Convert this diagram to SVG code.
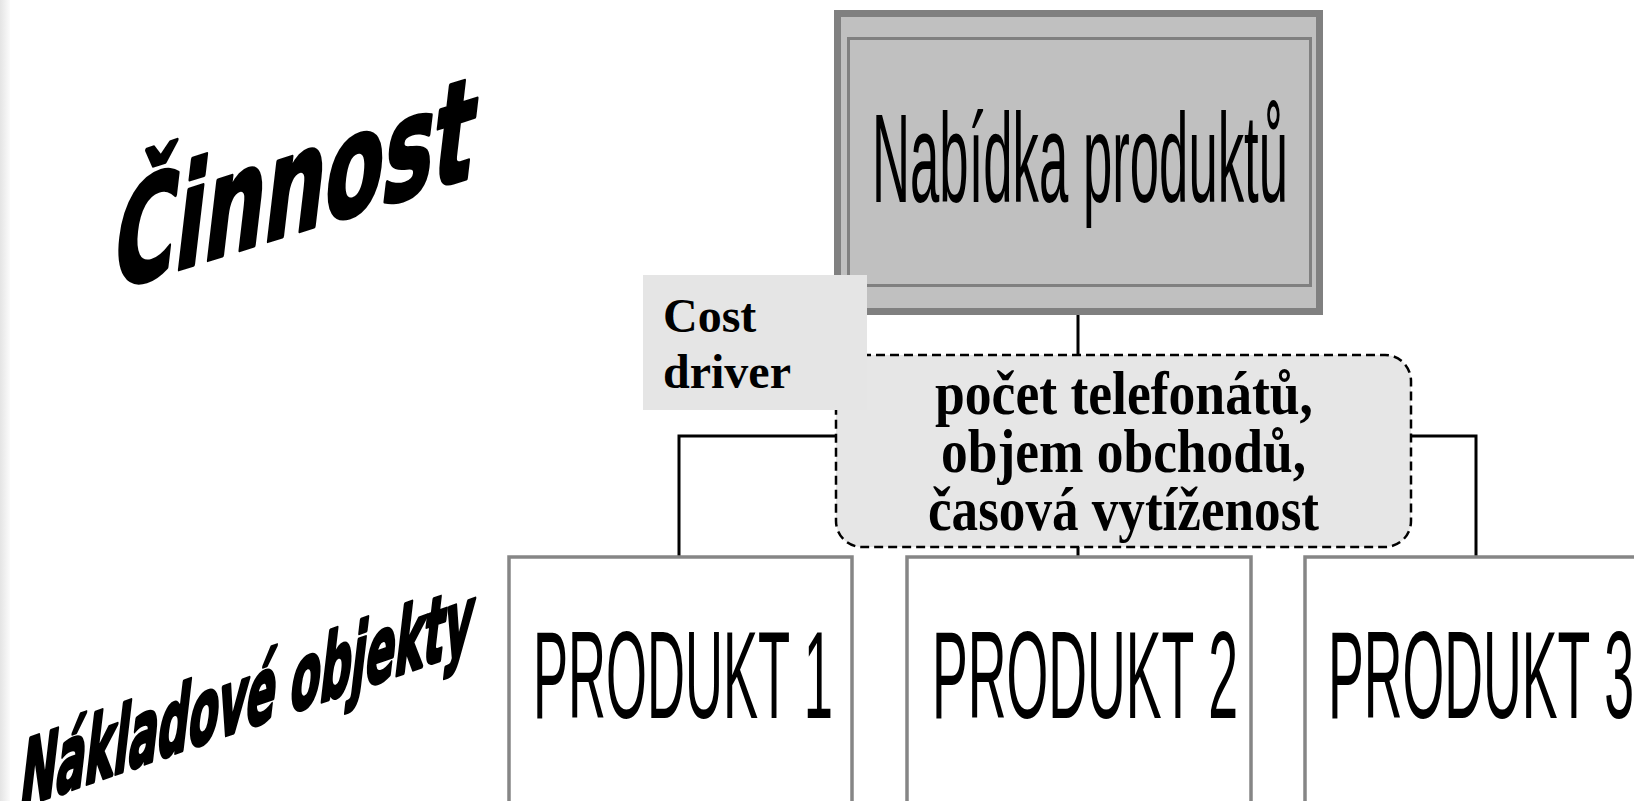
<svg xmlns="http://www.w3.org/2000/svg" width="1634" height="801" viewBox="0 0 1634 801">
<defs>
<linearGradient id="edge" x1="0" y1="0" x2="1" y2="0">
<stop offset="0" stop-color="#e4e4e4"/>
<stop offset="1" stop-color="#fbfbfb"/>
</linearGradient>
</defs>
<style>
.heavy{font-family:"DejaVu Sans",sans-serif;font-weight:bold;fill:#000;stroke:#000;stroke-width:4;stroke-linejoin:round}
.narrow{font-family:"Liberation Sans",Arial,sans-serif;fill:#000}
.serifb{font-family:"Liberation Serif","Times New Roman",serif;font-weight:bold;fill:#000}
.prod{fill:#fff;stroke:#868686;stroke-width:3.5}
.conn{fill:none;stroke:#000;stroke-width:3}
</style>
<rect x="0" y="0" width="1634" height="801" fill="#fff"/>
<rect x="0" y="0" width="10" height="801" fill="url(#edge)"/>

<g id="label-cinnost">
<text class="heavy" font-size="140" textLength="360" lengthAdjust="spacingAndGlyphs" transform="translate(110,291) skewY(-17.5) skewX(-7)">Činnost</text>
</g>
<g id="label-nakladove">
<text class="heavy" font-size="90" textLength="452" lengthAdjust="spacingAndGlyphs" transform="translate(18,808) skewY(-19.3) skewX(-7)">Nákladové objekty</text>
</g>

<g id="connectors">
<path class="conn" d="M1078 315 V436 M679 557 V436 H1476 V557 M1078 436 V557"/>
</g>

<g id="node-nabidka">
<rect x="837.5" y="13.5" width="482" height="298" fill="#c0c0c0" stroke="#808080" stroke-width="7"/>
<rect x="848.5" y="38.5" width="462" height="247" fill="none" stroke="#808080" stroke-width="3"/>
<text class="narrow" x="872" y="202" font-size="126" textLength="416" lengthAdjust="spacingAndGlyphs">Nabídka produktů</text>
</g>

<g id="node-driver">
<rect x="836" y="355" width="575" height="192" rx="26" ry="26" fill="#e6e6e6" stroke="#000" stroke-width="2.5" stroke-dasharray="9 5"/>
<text class="serifb" x="935" y="414" font-size="61" textLength="378" lengthAdjust="spacingAndGlyphs">počet telefonátů,</text>
<text class="serifb" x="941" y="472" font-size="61" textLength="365" lengthAdjust="spacingAndGlyphs">objem obchodů,</text>
<text class="serifb" x="928" y="530" font-size="61" textLength="391" lengthAdjust="spacingAndGlyphs">časová vytíženost</text>
</g>

<g id="node-costdriver">
<rect x="643" y="275" width="224" height="135" fill="#e5e5e5"/>
<text class="serifb" x="663" y="332" font-size="48">Cost</text>
<text class="serifb" x="663" y="388" font-size="48">driver</text>
</g>

<g id="node-produkt1">
<rect class="prod" x="509" y="557" width="343" height="300"/>
<text class="narrow" x="533" y="718" font-size="124" textLength="300" lengthAdjust="spacingAndGlyphs">PRODUKT 1</text>
</g>
<g id="node-produkt2">
<rect class="prod" x="907" y="557" width="344" height="300"/>
<text class="narrow" x="932" y="718" font-size="124" textLength="306" lengthAdjust="spacingAndGlyphs">PRODUKT 2</text>
</g>
<g id="node-produkt3">
<rect class="prod" x="1305" y="557" width="344" height="300"/>
<text class="narrow" x="1328" y="718" font-size="124" textLength="306" lengthAdjust="spacingAndGlyphs">PRODUKT 3</text>
</g>
</svg>
